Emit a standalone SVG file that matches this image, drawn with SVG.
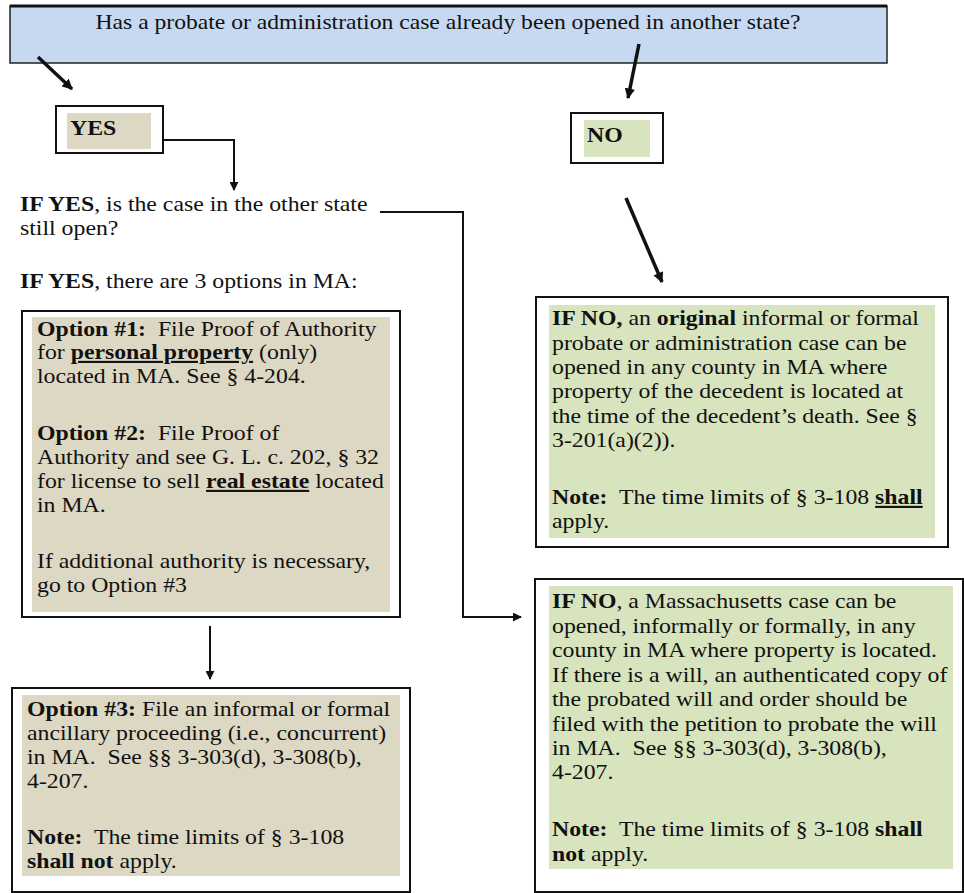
<svg xmlns="http://www.w3.org/2000/svg" width="964" height="893" viewBox="0 0 964 893">
<style>
text{font-family:"Liberation Serif","Times New Roman",serif;font-size:21px;fill:#111;white-space:pre}
.b{font-weight:bold}
.u{text-decoration:underline}
.frame{fill:#fff;stroke:#111;stroke-width:2}
.tan{fill:#ddd8c4}
.grn{fill:#d7e4bd}
.con{fill:none;stroke:#111;stroke-width:2}
.dia{fill:none;stroke:#111;stroke-width:3.5}
</style>
<defs>
<marker id="ah" viewBox="0 0 10 10" refX="9" refY="5" markerWidth="4.5" markerHeight="4.5" markerUnits="strokeWidth" orient="auto"><path d="M0,0L10,5L0,10z" fill="#111"/></marker>
<marker id="ah2" viewBox="0 0 10 10" refX="9" refY="5" markerWidth="3" markerHeight="3" markerUnits="strokeWidth" orient="auto"><path d="M0,0L10,5L0,10z" fill="#111"/></marker>
</defs>

<g id="question">
<rect x="10" y="6" width="877" height="57" fill="#c6d9f1" stroke="#222" stroke-width="1.5"/>
<line x1="10" y1="6" x2="887" y2="6" stroke="#111" stroke-width="3"/>
<text x="448" y="29" text-anchor="middle" textLength="705" lengthAdjust="spacingAndGlyphs">Has a probate or administration case already been opened in another state?</text>
</g>

<g id="yes">
<rect class="frame" x="56" y="106" width="107" height="47"/>
<rect class="tan" x="67" y="113" width="84" height="36"/>
<g transform="translate(70,0) scale(1.133,1) translate(-70,0)">
<text class="b" x="70" y="135">YES</text>
</g>
</g>

<g id="no">
<rect class="frame" x="571" y="113" width="92" height="50"/>
<rect class="grn" x="584" y="120" width="66" height="37"/>
<g transform="translate(587,0) scale(1.133,1) translate(-587,0)">
<text class="b" x="587" y="142">NO</text>
</g>
</g>

<g id="ifyes">
<g transform="translate(20,0) scale(1.133,1) translate(-20,0)">
<text x="20" y="211"><tspan class="b">IF YES</tspan>, is the case in the other state</text>
<text x="20" y="235">still open?</text>
<text x="20" y="288"><tspan class="b">IF YES</tspan>, there are 3 options in MA:</text>
</g>
</g>

<g id="options12">
<rect class="frame" x="22" y="311" width="378" height="306"/>
<rect class="tan" x="32" y="317" width="358" height="295"/>
<g transform="translate(37,0) scale(1.133,1) translate(-37,0)">
<text x="37" y="336"><tspan class="b">Option #1:</tspan>  File Proof of Authority</text>
<text x="37" y="359">for <tspan class="b u">personal property</tspan> (only)</text>
<text x="37" y="383">located in MA. See § 4-204.</text>
<text x="37" y="440"><tspan class="b">Option #2:</tspan>  File Proof of</text>
<text x="37" y="464">Authority and see G. L. c. 202, § 32</text>
<text x="37" y="488">for license to sell <tspan class="b u">real estate</tspan> located</text>
<text x="37" y="512">in MA.</text>
<text x="37" y="568">If additional authority is necessary,</text>
<text x="37" y="592">go to Option #3</text>
</g>
</g>

<g id="option3">
<rect class="frame" x="12" y="688" width="398" height="204"/>
<rect class="tan" x="22" y="695" width="378" height="181"/>
<g transform="translate(27,0) scale(1.133,1) translate(-27,0)">
<text x="27" y="716"><tspan class="b">Option #3:</tspan> File an informal or formal</text>
<text x="27" y="740">ancillary proceeding (i.e., concurrent)</text>
<text x="27" y="764">in MA.  See §§ 3-303(d), 3-308(b),</text>
<text x="27" y="788">4-207.</text>
<text x="27" y="844"><tspan class="b">Note:</tspan>  The time limits of § 3-108</text>
<text x="27" y="868"><tspan class="b">shall not</tspan> apply.</text>
</g>
</g>

<g id="no-original">
<rect class="frame" x="536" y="297" width="412" height="250"/>
<rect class="grn" x="549" y="305" width="386" height="233"/>
<g transform="translate(552,0) scale(1.133,1) translate(-552,0)">
<text x="552" y="325"><tspan class="b">IF NO,</tspan> an <tspan class="b">original</tspan> informal or formal</text>
<text x="552" y="350">probate or administration case can be</text>
<text x="552" y="374">opened in any county in MA where</text>
<text x="552" y="398">property of the decedent is located at</text>
<text x="552" y="423">the time of the decedent’s death. See §</text>
<text x="552" y="447">3-201(a)(2)).</text>
<text x="552" y="504"><tspan class="b">Note:</tspan>  The time limits of § 3-108 <tspan class="b u">shall</tspan></text>
<text x="552" y="528">apply.</text>
</g>
</g>

<g id="no-mass">
<rect class="frame" x="535" y="579" width="428" height="313"/>
<rect class="grn" x="549" y="586" width="404" height="283"/>
<g transform="translate(552,0) scale(1.133,1) translate(-552,0)">
<text x="552" y="608"><tspan class="b">IF NO</tspan>, a Massachusetts case can be</text>
<text x="552" y="633">opened, informally or formally, in any</text>
<text x="552" y="657">county in MA where property is located.</text>
<text x="552" y="682">If there is a will, an authenticated copy of</text>
<text x="552" y="706">the probated will and order should be</text>
<text x="552" y="731">filed with the petition to probate the will</text>
<text x="552" y="755">in MA.  See §§ 3-303(d), 3-308(b),</text>
<text x="552" y="779">4-207.</text>
<text x="552" y="836"><tspan class="b">Note:</tspan>  The time limits of § 3-108 <tspan class="b">shall</tspan></text>
<text x="552" y="861"><tspan class="b">not</tspan> apply.</text>
</g>
</g>

<g id="connectors">
<line class="dia" x1="38" y1="57" x2="72" y2="89" marker-end="url(#ah2)"/>
<line class="dia" x1="639" y1="44" x2="628" y2="98" marker-end="url(#ah2)"/>
<polyline class="con" points="163,140 234,140 234,190" marker-end="url(#ah)"/>
<polyline class="con" points="380,212 463,212 463,617 521,617" marker-end="url(#ah)"/>
<line class="dia" x1="626" y1="198" x2="662" y2="282" marker-end="url(#ah2)"/>
<line class="con" x1="210" y1="626" x2="210" y2="679" marker-end="url(#ah)"/>
</g>
</svg>
